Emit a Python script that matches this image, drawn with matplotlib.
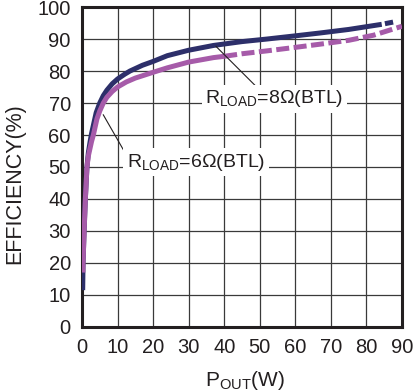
import matplotlib
matplotlib.use("Agg")
import matplotlib.pyplot as plt

plt.rcParams["font.family"] = ["Liberation Sans", "DejaVu Sans"]
plt.rcParams["mathtext.fontset"] = "custom"
plt.rcParams["mathtext.rm"] = "Liberation Sans"
plt.rcParams["mathtext.it"] = "Liberation Sans"

# R_LOAD = 8 ohm (BTL)
p8 = [0.2, 0.3, 0.6, 0.95, 1.4, 1.8, 2.3, 2.7, 3.2, 4, 5, 6, 7, 8.5, 10,
      12, 13.5, 17, 20, 24, 30, 37, 45, 52, 60, 67, 75, 84.3]
eff8 = [11.5, 20, 30, 40, 50, 54.5, 58, 60.5, 63, 67, 70, 72.3, 74, 76, 77.5,
        79, 80, 81.8, 83, 84.8, 86.5, 88, 89.2, 90, 91, 91.9, 93, 94.6]
p8_ext = [85.2, 87.5]
eff8_ext = [94.8, 95.3]

# R_LOAD = 6 ohm (BTL)
p6 = [0.25, 0.3, 0.6, 0.95, 1.4, 1.8, 2.3, 2.7, 3.2, 4.2, 5, 6, 7, 8.5, 10,
      12.5, 15, 20, 24, 30, 37, 40]
eff6 = [17, 20, 30, 40, 50, 53.5, 56, 58, 60, 65, 67.5, 70, 71.8, 73.6, 75,
        76.6, 77.8, 79.6, 81, 82.8, 84.2, 84.6]
p6_ext = [40, 45, 52, 60, 67, 75, 82, 90]
eff6_ext = [84.6, 85.4, 86.3, 87.4, 88.4, 89.6, 91.2, 94.0]

x_ticks = list(range(0, 100, 10))
y_ticks = list(range(0, 110, 10))

label8 = r"R$_{\mathrm{LOAD}}$=8Ω(BTL)"
label6 = r"R$_{\mathrm{LOAD}}$=6Ω(BTL)"
leader8 = ([37.7, 49.5], [87.7, 74.6])
leader6 = ([6.0, 12.2], [66.3, 54.3])
text8_pos = (34.6, 70.0)
text6_pos = (12.6, 50.0)

navy = "#2d2f6a"
magenta = "#a65ba9"
ink = "#231f20"

fig = plt.figure(figsize=(4.14, 3.92), dpi=100)
ax = fig.add_axes([0.198, 0.166, 0.773, 0.816])

ax.set_xlim(0, 90)
ax.set_ylim(0, 100)
ax.set_xticks(x_ticks)
ax.set_yticks(y_ticks)
ax.grid(True, color="#3a3a3a", linewidth=0.9, zorder=1)
ax.set_axisbelow(True)
ax.tick_params(length=0, labelsize=14.5, labelcolor=ink, pad=8)
for s in ax.spines.values():
    s.set_linewidth(2.2)
    s.set_color(ink)

lw = 3.6
ax.plot(p8, eff8, color=navy, lw=lw, solid_joinstyle="round",
        solid_capstyle="butt", zorder=3)
ax.plot(p8_ext, eff8_ext, color=navy, lw=lw, solid_capstyle="butt", zorder=3)
ax.plot(p6, eff6, color=magenta, lw=lw, solid_joinstyle="round",
        solid_capstyle="butt", zorder=4)
ax.plot(p6_ext, eff6_ext, color=magenta, lw=lw, dashes=(2.6, 0.9),
        dash_capstyle="butt", zorder=4)

ax.plot(*leader8, color=ink, lw=0.8, zorder=5)
ax.plot(*leader6, color=ink, lw=0.8, zorder=5)

box = dict(facecolor="white", edgecolor="none", pad=2.5)
ax.text(*text8_pos, label8, fontsize=14, color=ink, ha="left",
        va="baseline", bbox=box, zorder=6)
ax.text(*text6_pos, label6, fontsize=14, color=ink, ha="left",
        va="baseline", bbox=box, zorder=6)

ax.set_xlabel(r"P$_{\mathrm{OUT}}$(W)", fontsize=15, color=ink)
ax.xaxis.set_label_coords(0.51, -0.13)
ax.set_ylabel("EFFICIENCY(%)", fontsize=15.5, color=ink)
ax.yaxis.set_label_coords(-0.178, 0.447)

fig.savefig("out.png", dpi=100)
